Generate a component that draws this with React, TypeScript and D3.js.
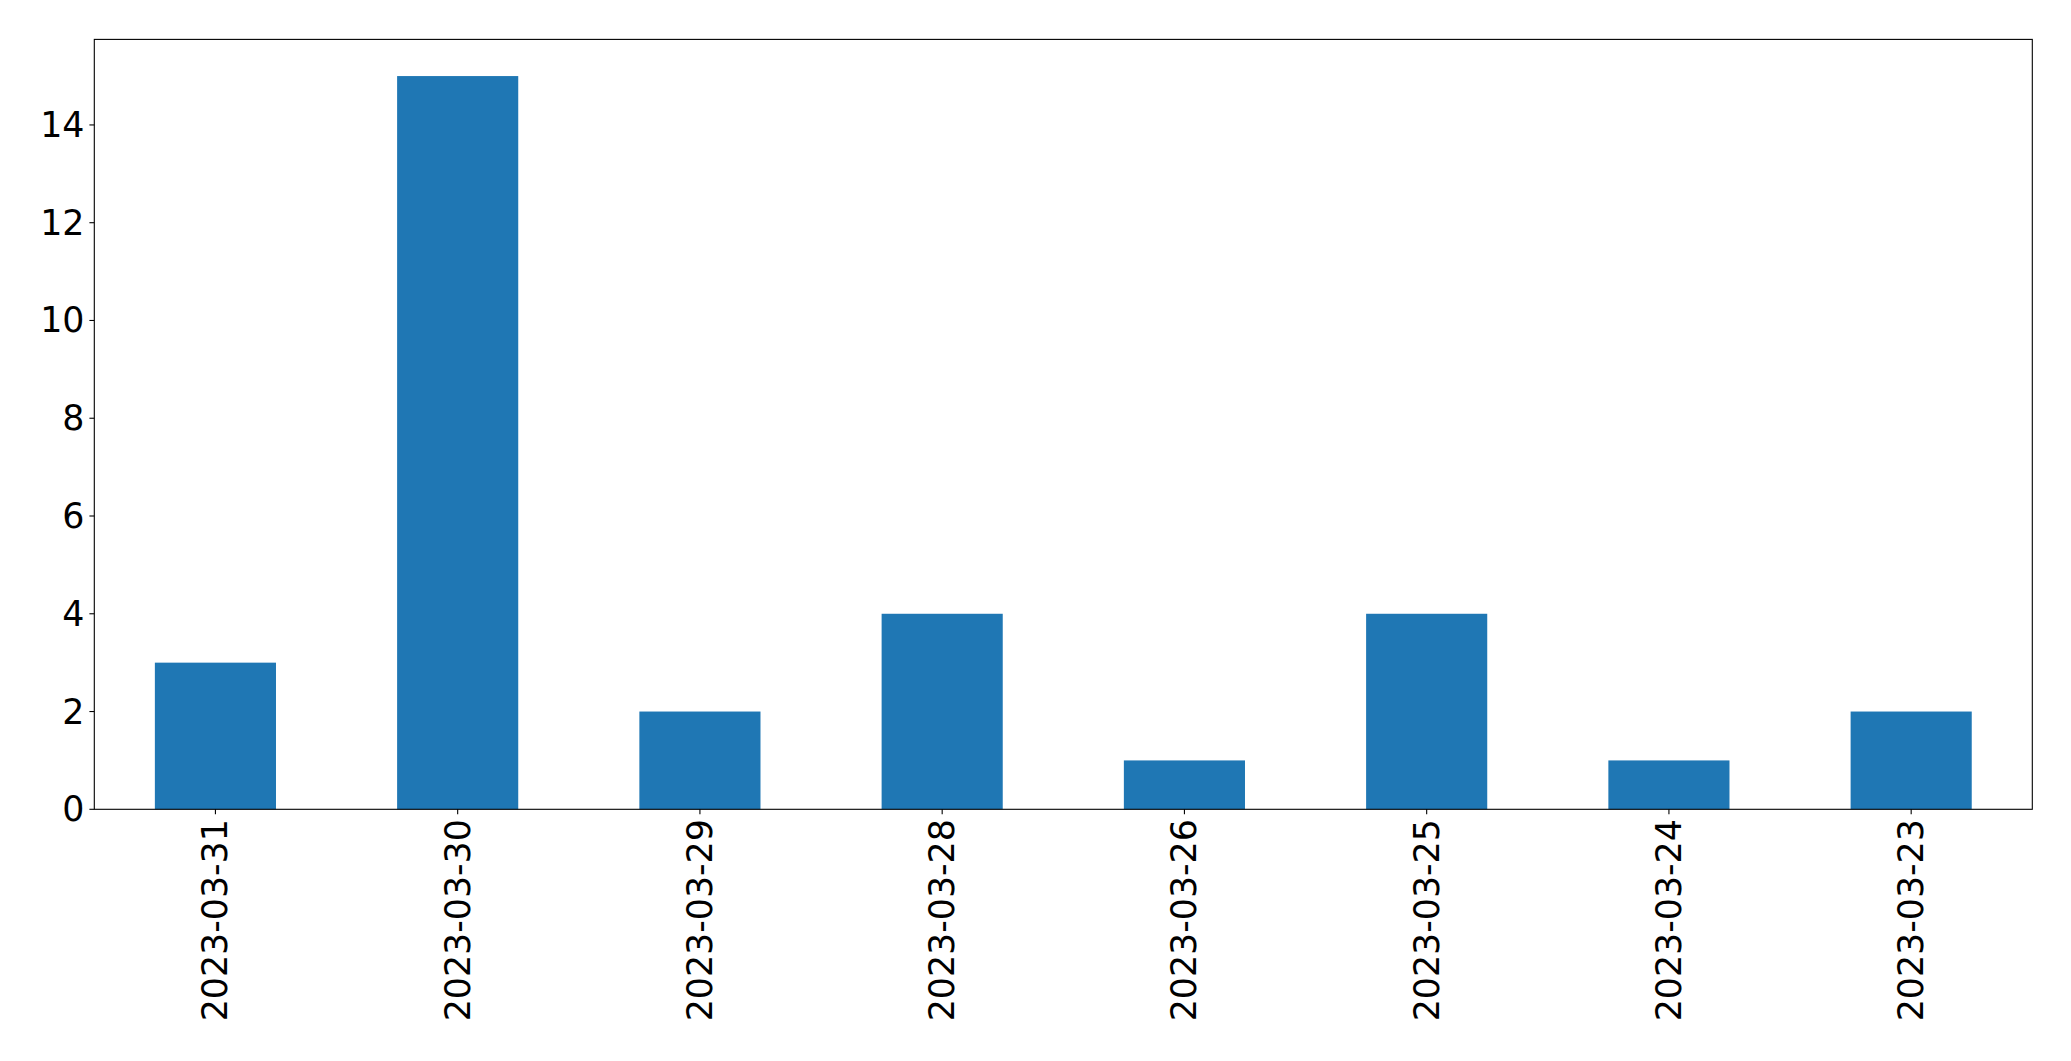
import React from "react";
import * as d3 from "d3";

const categories = ["2023-03-31", "2023-03-30", "2023-03-29", "2023-03-28", "2023-03-26", "2023-03-25", "2023-03-24", "2023-03-23"];
const values = [3, 15, 2, 4, 1, 4, 1, 2];
const yTicks = [0, 2, 4, 6, 8, 10, 12, 14];

const W = 2071, H = 1061;
const L = 94.3, R = 2032.3, T = 39.4, B = 809.3;
const FS = 34.8;

export default function App() {
  const x = d3.scaleBand<string>().domain(categories).range([L, R]).paddingInner(0.5).paddingOuter(0.25);
  const y = d3.scaleLinear().domain([0, 15.75]).range([B, T]);
  return (
    <svg width={W} height={H} style={{ position: "absolute", left: 0, top: 0 }} fontFamily="DejaVu Sans">
      <rect x={0} y={0} width={W} height={H} fill="#fff" />
      {categories.map((c, i) => (
        <rect key={c} x={x(c)} y={y(values[i])} width={x.bandwidth()} height={B - y(values[i])} fill="#1f77b4" />
      ))}
      <rect x={L} y={T} width={R - L} height={B - T} fill="none" stroke="#000" strokeWidth={1.1} />
      {yTicks.map((t) => (
        <g key={t}>
          <line x1={L - 4.9} x2={L} y1={y(t)} y2={y(t)} stroke="#000" strokeWidth={1.1} />
          <text x={L - 9.8} y={y(t)} textAnchor="end" dominantBaseline="central" fontSize={FS}>{t}</text>
        </g>
      ))}
      {categories.map((c) => {
        const cx = (x(c) as number) + x.bandwidth() / 2;
        return (
          <g key={c}>
            <line x1={cx} x2={cx} y1={B} y2={B + 4.9} stroke="#000" strokeWidth={1.1} />
            <text transform={`translate(${cx},${B + 9.8}) rotate(-90)`} textAnchor="end" dominantBaseline="central" fontSize={FS}>{c}</text>
          </g>
        );
      })}
    </svg>
  );
}
